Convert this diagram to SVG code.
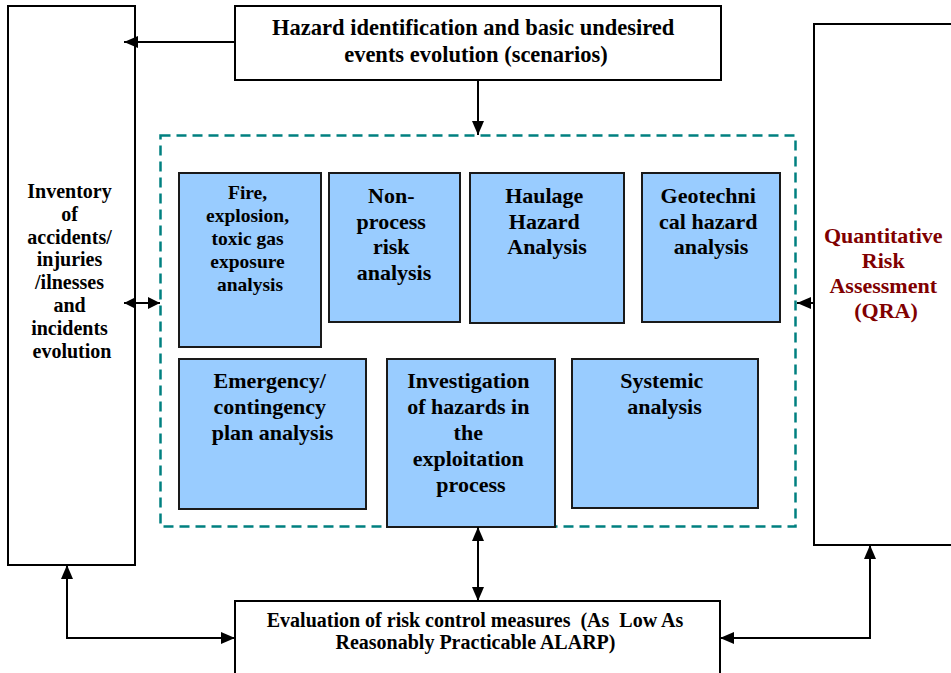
<svg xmlns="http://www.w3.org/2000/svg" width="951" height="673" viewBox="0 0 951 673">
<style>
.wb{fill:#fff;stroke:#000;stroke-width:2}
.bb{fill:#99CCFF;stroke:#1a1a1a;stroke-width:2}
.t{font-family:"Liberation Serif","Times New Roman",serif;font-weight:bold;fill:#000;text-anchor:middle}
.s19{font-size:19.5px}
.s20{font-size:20px}
.s22{font-size:22px}
.red{fill:#800000}
.ln{fill:none;stroke:#000;stroke-width:2}
</style>
<defs>
<marker id="ah" viewBox="0 0 14 12" refX="14" refY="6" markerWidth="14" markerHeight="12" markerUnits="userSpaceOnUse" orient="auto-start-reverse">
<path d="M0,0 L14,6 L0,12 Z" fill="#000"/>
</marker>
<marker id="ahs" viewBox="0 0 12 12" refX="12" refY="6" markerWidth="12" markerHeight="12" markerUnits="userSpaceOnUse" orient="auto-start-reverse">
<path d="M0,0 L12,6 L0,12 Z" fill="#000"/>
</marker>
</defs>

<rect id="container" x="160.5" y="135.5" width="635" height="391" fill="none" stroke="#008080" stroke-width="2.5" stroke-dasharray="10,6"/>

<g id="inventory">
<rect class="wb" x="8" y="6" width="127" height="559"/>
<text class="t s20">
<tspan x="72" y="198">Inventory</tspan>
<tspan x="72" y="220.8">of</tspan>
<tspan x="72" y="243.6">accidents/</tspan>
<tspan x="72" y="266.4">injuries</tspan>
<tspan x="72" y="289.2">/ilnesses</tspan>
<tspan x="72" y="312">and</tspan>
<tspan x="72" y="334.8">incidents</tspan>
<tspan x="72" y="357.6">evolution</tspan>
</text>
</g>

<g id="hazard-id">
<rect class="wb" x="235" y="6" width="486" height="74"/>
<text class="t" style="font-size:22.5px">
<tspan x="476" y="35">Hazard identification and basic undesired</tspan>
<tspan x="476" y="62">events evolution (scenarios)</tspan>
</text>
</g>

<g id="qra">
<rect class="wb" x="814" y="24" width="150" height="521"/>
<text class="t s22 red">
<tspan x="886" y="243">Quantitative</tspan>
<tspan x="886" y="268">Risk</tspan>
<tspan x="886" y="293">Assessment</tspan>
<tspan x="886" y="318">(QRA)</tspan>
</text>
</g>

<g id="alarp">
<rect class="wb" x="235" y="601" width="485" height="90"/>
<text class="t s20" style="white-space:pre">
<tspan x="477.5" y="627">Evaluation of risk control measures  (As  Low As</tspan>
<tspan x="478" y="649">Reasonably Practicable ALARP)</tspan>
</text>
</g>

<g id="fire">
<rect class="bb" x="179" y="173" width="142" height="174"/>
<text class="t s19">
<tspan x="250" y="199">Fire,</tspan>
<tspan x="250" y="222">explosion,</tspan>
<tspan x="250" y="245">toxic gas</tspan>
<tspan x="250" y="268">exposure</tspan>
<tspan x="250" y="291">analysis</tspan>
</text>
</g>

<g id="non-process">
<rect class="bb" x="329" y="173" width="131" height="149"/>
<text class="t s22">
<tspan x="394" y="203">Non-</tspan>
<tspan x="394" y="228.5">process</tspan>
<tspan x="394" y="254">risk</tspan>
<tspan x="394" y="279.5">analysis</tspan>
</text>
</g>

<g id="haulage">
<rect class="bb" x="470" y="173" width="154" height="150"/>
<text class="t s22">
<tspan x="547" y="203">Haulage</tspan>
<tspan x="547" y="228.5">Hazard</tspan>
<tspan x="547" y="254">Analysis</tspan>
</text>
</g>

<g id="geotechnical">
<rect class="bb" x="642" y="173" width="138" height="149"/>
<text class="t s22">
<tspan x="711" y="203">Geotechni</tspan>
<tspan x="711" y="228.5">cal hazard</tspan>
<tspan x="711" y="254">analysis</tspan>
</text>
</g>

<g id="emergency">
<rect class="bb" x="179" y="359" width="187" height="150"/>
<text class="t s22">
<tspan x="272.5" y="388">Emergency/</tspan>
<tspan x="272.5" y="414">contingency</tspan>
<tspan x="272.5" y="440">plan analysis</tspan>
</text>
</g>

<g id="investigation">
<rect class="bb" x="387" y="359" width="168" height="168"/>
<text class="t s22">
<tspan x="471" y="388">Investigation</tspan>
<tspan x="471" y="414">of hazards in</tspan>
<tspan x="471" y="440">the</tspan>
<tspan x="471" y="466">exploitation</tspan>
<tspan x="471" y="492">process</tspan>
</text>
</g>

<g id="systemic">
<rect class="bb" x="572" y="359" width="186" height="149"/>
<text class="t s22">
<tspan x="664.5" y="388">Systemic</tspan>
<tspan x="664.5" y="414">analysis</tspan>
</text>
</g>

<g id="connectors">
<path class="ln" d="M235,42 L124,42" marker-end="url(#ah)"/>
<path class="ln" d="M478,80 L478,135" marker-end="url(#ah)"/>
<path class="ln" d="M124,303 L160,303" marker-start="url(#ahs)" marker-end="url(#ahs)"/>
<path class="ln" d="M814,303 L797,303" marker-end="url(#ah)"/>
<path class="ln" d="M478,527 L478,601" marker-start="url(#ah)" marker-end="url(#ah)"/>
<path class="ln" d="M67,565 L67,638 L235,638" marker-start="url(#ah)" marker-end="url(#ah)"/>
<path class="ln" d="M870,545 L870,638 L720,638" marker-start="url(#ah)" marker-end="url(#ah)"/>
</g>
</svg>
